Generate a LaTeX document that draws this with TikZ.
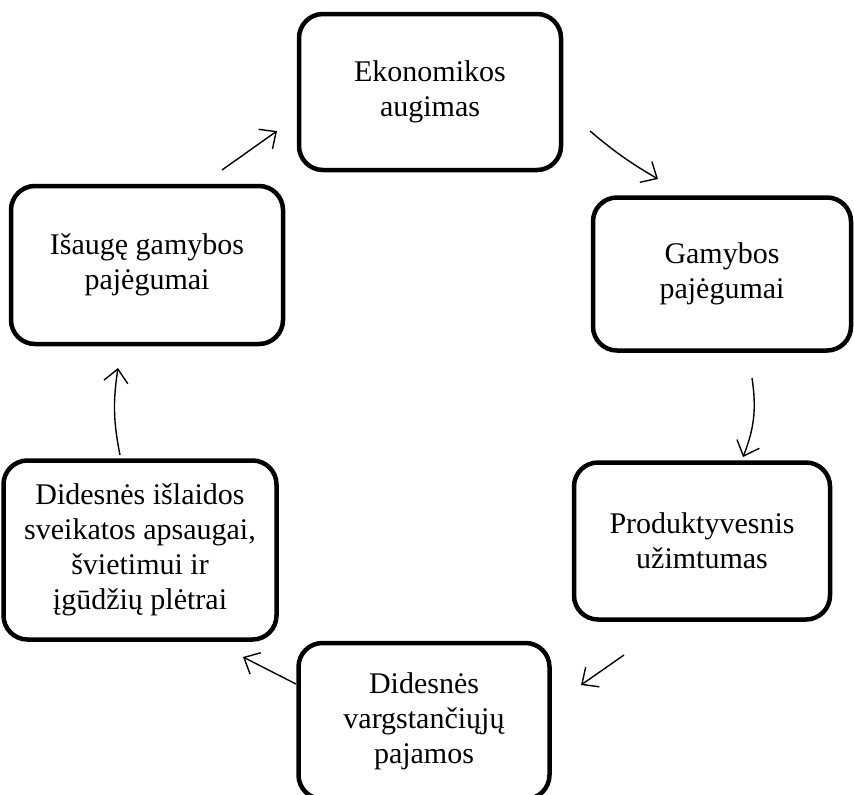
\documentclass[tikz,border=0pt]{standalone}
\usepackage{fontspec}
\setmainfont{Liberation Serif}
\usetikzlibrary{positioning, arrows.meta}
\tikzset{
box/.style={draw, line width=4.5pt, rounded corners=24pt, align=center, inner sep=0pt, font=\fontsize{30}{35}\selectfont}, % thick rounded boxes
link/.style={-{Straight Barb[length=13pt,width=24pt]}, line width=1.4pt}, % thin arrows between the boxes
}

\begin{document}
\begin{tikzpicture}[x=1pt,y=-1pt]
  \useasboundingbox (0,0) rectangle (854,795);
  \clip (0,0) rectangle (854,795);

  \node[box, minimum width=262pt, minimum height=156pt] (ekon) at (430,92) {Ekonomikos\\augimas};
  \node[box, minimum width=258pt, minimum height=153pt] (gamyb) at (722,274) {Gamybos\\pajėgumai};
  \node[box, minimum width=256pt, minimum height=157pt] (prod) at (702,541) {Produktyvesnis\\užimtumas};
  \node[box, minimum width=251pt, minimum height=156pt] (pajam) at (424,721) {Didesnės\\vargstančiųjų\\pajamos};
  \node[box, minimum width=273pt, minimum height=179pt] (islaid) at (140,550) {Didesnės išlaidos\\sveikatos apsaugai,\\švietimui ir\\įgūdžių plėtrai};
  \node[box, minimum width=272pt, minimum height=158pt] (isaug) at (147,265) {Išaugę gamybos\\pajėgumai};

  % arrow ends sit in the gaps between the boxes
  \coordinate (a1s) at (222,170); \coordinate (a1e) at (277,131);
  \coordinate (a2s) at (590,131); \coordinate (a2e) at (658,179);
  \coordinate (a3s) at (752,378); \coordinate (a3e) at (743,457);
  \coordinate (a4s) at (624,655); \coordinate (a4e) at (581,685);
  \coordinate (a5s) at (296,684); \coordinate (a5e) at (243,657);
  \coordinate (a6s) at (120,455); \coordinate (a6e) at (118,368);

  \draw[link] (a1s) -- (a1e);
  \draw[link] (a2s) to[bend right=5] (a2e);
  \draw[link] (a3s) to[bend left=15] (a3e);
  \draw[link] (a4s) -- (a4e);
  \draw[link] (a5s) -- (a5e);
  \draw[link] (a6s) to[bend left=10] (a6e);

\end{tikzpicture}
\end{document}
